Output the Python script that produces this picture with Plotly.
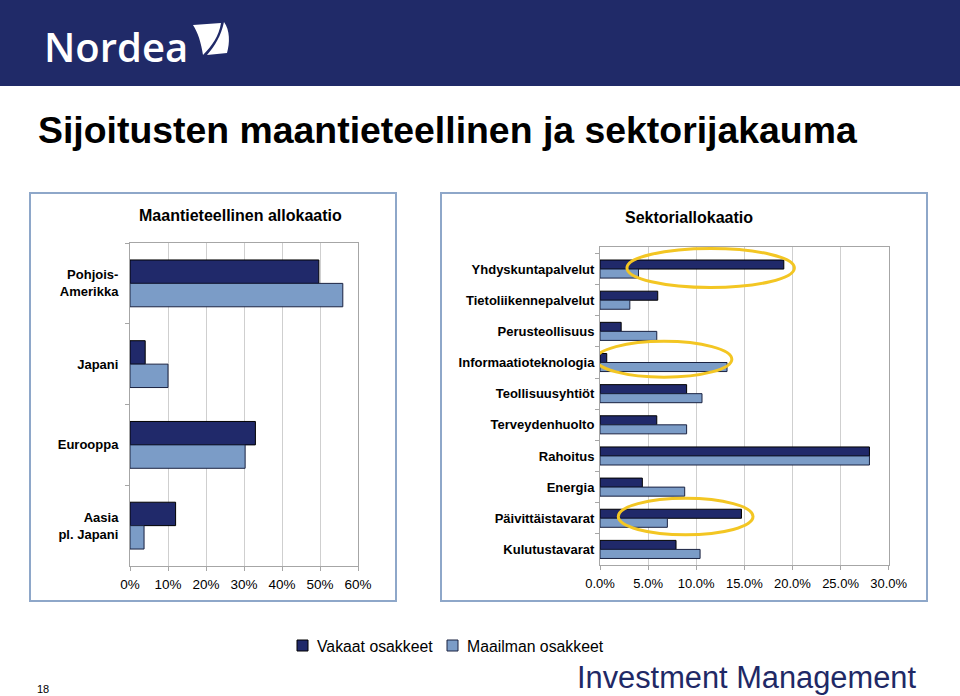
import plotly.graph_objects as go

# ---------------- data ----------------
regions = ["Pohjois-<br>Amerikka", "Japani", "Eurooppa", "Aasia<br>pl. Japani"]
region_vakaat = [49.7, 4.0, 33.0, 12.0]
region_maailma = [56.0, 10.0, 30.3, 3.7]

sectors = ["Yhdyskuntapalvelut", "Tietoliikennepalvelut", "Perusteollisuus",
           "Informaatioteknologia", "Teollisuusyhtiöt", "Terveydenhuolto",
           "Rahoitus", "Energia", "Päivittäistavarat", "Kulutustavarat"]
sector_vakaat = [19.1, 6.0, 2.2, 0.7, 9.0, 5.9, 28.0, 4.4, 14.7, 7.9]
sector_maailma = [4.0, 3.1, 5.9, 13.2, 10.6, 9.0, 28.0, 8.8, 7.0, 10.4]

series_names = ["Vakaat osakkeet", "Maailman osakkeet"]
left_ticks = [0, 10, 20, 30, 40, 50, 60]
left_ticktext = ["0%", "10%", "20%", "30%", "40%", "50%", "60%"]
right_ticks = [0, 5, 10, 15, 20, 25, 30]
right_ticktext = ["0.0%", "5.0%", "10.0%", "15.0%", "20.0%", "25.0%", "30.0%"]

# highlighted sectors (ellipses): (sector, x from, x to, band offsets)
highlights = [("Yhdyskuntapalvelut", 2.8, 20.2, -0.66, 0.59),
              ("Informaatioteknologia", -0.4, 13.7, -0.68, 0.47),
              ("Päivittäistavarat", 1.9, 15.9, -0.64, 0.53)]

# ---------------- style ----------------
W, H = 960, 696
DARK = "#20296a"
LIGHT = "#7b9cc7"
NAVY = "#1f2966"
BOXC = "#8ea7c9"
FONT = "Liberation Sans, Arial, sans-serif"
series_colors = [DARK, LIGHT]
series_lines = ["#000000", "#1a2240"]


def px(x):
    return x / W


def py(y):
    return 1 - y / H


def path(points):
    s = ""
    for cmd, pts in points:
        s += cmd + " " + " ".join(f"{px(a):.5f},{py(b):.5f}" for a, b in pts) + " "
    return s + "Z"


fig = go.Figure()

for name, vals, col, lc in zip(series_names, [region_vakaat, region_maailma],
                               series_colors, series_lines):
    fig.add_trace(go.Bar(y=regions, x=vals, name=name, orientation="h",
                         marker=dict(color=col, line=dict(color=lc, width=1)),
                         xaxis="x", yaxis="y", showlegend=False))

for name, vals, col, lc in zip(series_names, [sector_vakaat, sector_maailma],
                               series_colors, series_lines):
    fig.add_trace(go.Bar(y=sectors, x=vals, name=name, orientation="h",
                         marker=dict(color=col, line=dict(color=lc, width=1)),
                         xaxis="x2", yaxis="y2", showlegend=False))

shapes = []
# header band
shapes.append(dict(type="rect", xref="paper", yref="paper", x0=0, x1=1,
                   y0=py(86), y1=1, fillcolor="#202a68", line=dict(width=0), layer="below"))
# sail logo
shapes.append(dict(type="path", xref="paper", yref="paper", fillcolor="white", line=dict(width=0),
                   path=path([("M", [(193, 25)]), ("L", [(221, 23)]),
                              ("C", [(219, 36), (212, 46), (203, 55)]),
                              ("C", [(201, 42), (198, 33), (193, 25)])])))
shapes.append(dict(type="path", xref="paper", yref="paper", fillcolor="white", line=dict(width=0),
                   path=path([("M", [(224, 22)]),
                              ("C", [(230, 30), (230, 43), (227, 53)]),
                              ("L", [(207, 55)]),
                              ("C", [(215, 46), (221, 36), (224, 22)])])))
# panel boxes
shapes.append(dict(type="rect", xref="paper", yref="paper", x0=px(30), x1=px(396),
                   y0=py(601), y1=py(193), line=dict(color=BOXC, width=2), layer="below"))
shapes.append(dict(type="rect", xref="paper", yref="paper", x0=px(441), x1=px(927),
                   y0=py(601), y1=py(193), line=dict(color=BOXC, width=2), layer="below"))
# highlight ellipses
for sec, x0, x1, d0, d1 in highlights:
    i = sectors.index(sec)
    shapes.append(dict(type="circle", xref="x2", yref="y2", x0=x0, x1=x1,
                       y0=i + d0, y1=i + d1, line=dict(color="#f3c623", width=3),
                       layer="above"))

annotations = [
    dict(text="Nordea", x=px(42), y=py(46), xref="paper", yref="paper", xanchor="left",
         yanchor="middle", showarrow=False,
         font=dict(family="Open Sans, sans-serif", size=40, color="white", weight=600)),
    dict(text="<b>Sijoitusten maantieteellinen ja sektorijakauma</b>", x=px(36), y=py(130),
         xref="paper", yref="paper", xanchor="left", yanchor="middle", showarrow=False,
         font=dict(family=FONT, size=37.4, color="black")),
    dict(text="<b>Maantieteellinen allokaatio</b>", x=px(240), y=py(215), xref="paper",
         yref="paper", xanchor="center", yanchor="middle", showarrow=False,
         font=dict(family=FONT, size=16, color="black")),
    dict(text="<b>Sektoriallokaatio</b>", x=px(689), y=py(218), xref="paper",
         yref="paper", xanchor="center", yanchor="middle", showarrow=False,
         font=dict(family=FONT, size=16, color="black")),
    dict(text="Investment Management", x=px(746), y=py(677), xref="paper", yref="paper",
         xanchor="center", yanchor="middle", showarrow=False, borderpad=0,
         font=dict(family=FONT, size=30.8, color=NAVY)),
    dict(text="18", x=px(43), y=py(689), xref="paper", yref="paper", xanchor="center",
         yanchor="middle", showarrow=False, font=dict(family=FONT, size=11, color="black")),
]

# legend (series keys)
legend_x = [297, 447]
for name, col, lc, lx in zip(series_names, series_colors, series_lines, legend_x):
    shapes.append(dict(type="rect", xref="paper", yref="paper", x0=px(lx), x1=px(lx + 11),
                       y0=py(651), y1=py(640), fillcolor=col, line=dict(color=lc, width=1)))
    annotations.append(dict(text=name, x=px(lx + 18), y=py(646), xref="paper", yref="paper",
                            xanchor="left", yanchor="middle", showarrow=False,
                            font=dict(family=FONT, size=15.8, color="black")))

axis_common = dict(showline=True, mirror=True, linecolor="#a6a6a6", linewidth=1,
                   showgrid=True, gridcolor="#cfcfcf", gridwidth=1, zeroline=False,
                   ticks="outside", ticklen=4, tickcolor="#a6a6a6", fixedrange=True,
                   automargin=False)
yaxis_common = dict(autorange="reversed", tickson="boundaries", showline=True, mirror=True,
                    linecolor="#a6a6a6", showgrid=False, ticks="outside", ticklen=4,
                    tickcolor="#a6a6a6", fixedrange=True, automargin=False,
                    tickfont=dict(size=13, weight="bold"))

fig.update_layout(
    width=W, height=H, margin=dict(l=0, r=0, t=0, b=0, pad=0, autoexpand=False),
    paper_bgcolor="white", plot_bgcolor="white",
    barmode="group", bargap=0.42, bargroupgap=0,
    font=dict(family=FONT, color="black"),
    showlegend=False,
    xaxis=dict(domain=[px(130), px(358)], anchor="y", range=[0, 60], tickvals=left_ticks,
               ticktext=left_ticktext, tickfont=dict(size=13.5), ticklabelstandoff=2,
               **axis_common),
    yaxis=dict(domain=[py(566), py(243)], anchor="x", ticklabelstandoff=8, **yaxis_common),
    xaxis2=dict(domain=[px(600), px(888.7)], anchor="y2", range=[0, 30], tickvals=right_ticks,
                ticktext=right_ticktext, tickfont=dict(size=13), ticklabelstandoff=2,
                **axis_common),
    yaxis2=dict(domain=[py(565), py(247)], anchor="x2", ticklabelstandoff=2, **yaxis_common),
    shapes=shapes, annotations=annotations,
)

fig.write_html("out.html", config={"displayModeBar": False},
               post_script="document.body.style.margin='0';"
                           "document.body.style.overflow='hidden';"
                           "document.documentElement.style.overflow='hidden';")
